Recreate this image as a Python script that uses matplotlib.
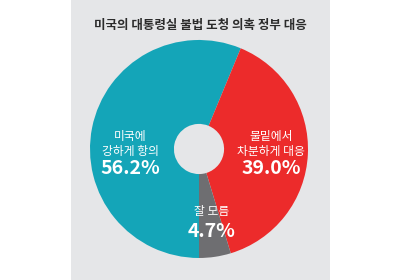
import matplotlib.pyplot as plt
from matplotlib.patches import Rectangle

plt.rcParams['font.family'] = ['Noto Sans CJK KR', 'DejaVu Sans']

title = '미국의 대통령실 불법 도청 의혹 정부 대응'
labels = ['미국에\n강하게 항의', '물밑에서\n차분하게 대응', '잘 모름']
values = [56.2, 39.0, 4.7]
colors = ['#14a5b8', '#ec2b2b', '#6e6e71']

fig = plt.figure(figsize=(4, 2.8), dpi=100)
fig.patch.set_facecolor('white')
# grey panel behind the chart
fig.add_artist(Rectangle((71 / 400, 0), (330 - 71) / 400, 1, transform=fig.transFigure,
                         facecolor='#e5e6e8', edgecolor='none', zorder=0))

ax = fig.add_axes([0.225, 0.0786, 0.545, 0.7786])
ax.set_facecolor('none')
wedges, _ = ax.pie(values, colors=colors, startangle=-90, counterclock=False,
                   wedgeprops=dict(width=0.77, edgecolor='none'))
ax.set_xlim(-1, 1)
ax.set_ylim(-1, 1)
ax.axis('off')

# label positions (data coords) for each slice
label_pos = [(-0.633, 0.045), (0.66, 0.045), (0.119, -0.569)]
pct_pos = [(-0.633, -0.183), (0.66, -0.183), (0.119, -0.761)]
for lab, val, (lx, ly), (px, py) in zip(labels, values, label_pos, pct_pos):
    ax.text(lx, ly, lab, ha='center', va='center', color='white',
            fontsize=8.5, fontweight='medium', linespacing=1.25)
    ax.text(px, py, f'{val:.1f}%', ha='center', va='center', color='white',
            fontsize=14, fontweight='bold')

fig.text(0.5, 1 - 25 / 280, title, ha='center', va='center', fontsize=9,
         fontweight='bold', color='#2b2b2b')

fig.savefig('out.png', dpi=100)
